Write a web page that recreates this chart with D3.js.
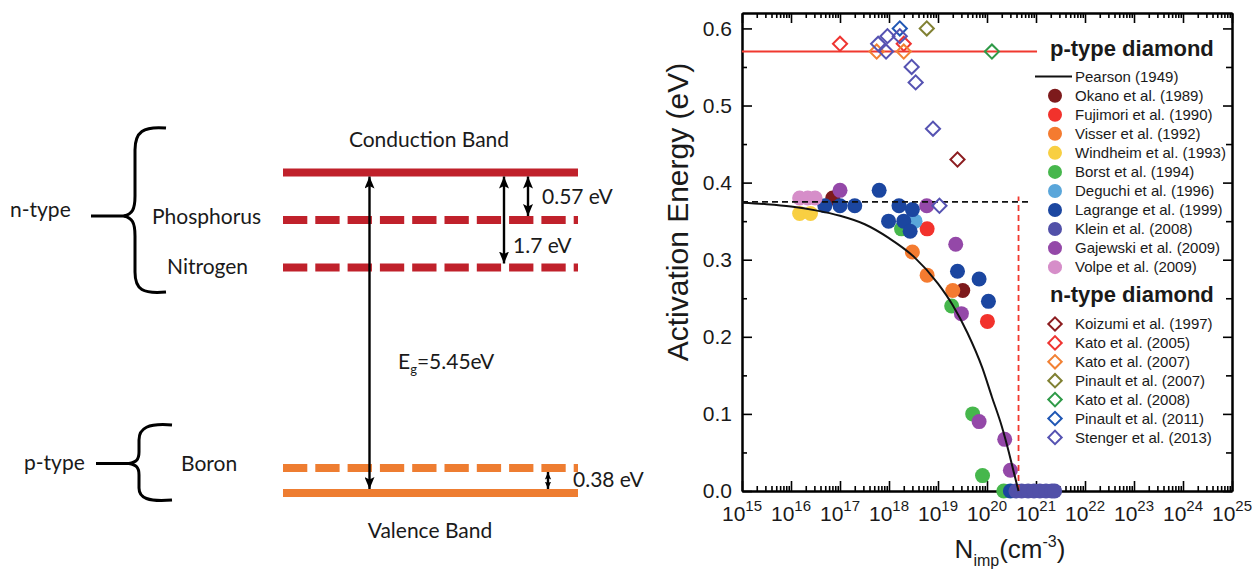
<!DOCTYPE html>
<html><head><meta charset="utf-8">
<script src="https://cdn.jsdelivr.net/npm/d3@7"></script>
<style>body{margin:0;background:#fff} svg{display:block}</style>
</head><body>
<svg id="c" width="1254" height="570"></svg>
<script>
// ================= DATA =================
// Left: band diagram (energies in eV above valence band)
const levelNames = ["Conduction Band", "Phosphorus", "Nitrogen", "Boron", "Valence Band"];
const levelEnergies = [5.45, 4.88, 3.75, 0.38, 0];
const gapSpans = [[5.45, 0], [5.45, 3.75], [5.45, 4.88], [0.38, 0]];
const gapLabels = ["Eg=5.45eV", "1.7 eV", "0.57 eV", "0.38 eV"];
const dopantGroups = ["n-type", "p-type"];

// Right: activation energy vs impurity concentration
const xDecades = [15, 16, 17, 18, 19, 20, 21, 22, 23, 24, 25];
const yTicks = [0, 0.1, 0.2, 0.3, 0.4, 0.5, 0.6];
const yMinorTicks = [0.05, 0.15, 0.25, 0.35, 0.45, 0.55];

const pearsonN = [1e15, 3.2e15, 1e16, 3.2e16, 1e17, 3.2e17, 1e18, 3.2e18, 1e19, 2e19, 4e19, 8e19, 1.26e20, 2e20, 2.8e20, 3.5e20, 4.4e20];
const pearsonE = [0.374, 0.372, 0.369, 0.364, 0.357, 0.346, 0.328, 0.304, 0.269, 0.241, 0.205, 0.160, 0.122, 0.084, 0.050, 0.025, 0.0];

const boronLevelLine = [[1e15, 0.375], [6.9e20, 0.375]];
const phosphorusLevelLine = [[1e15, 0.57], [1.05e21, 0.57]];
const mottLine = [[4.4e20, 0], [4.4e20, 0.382]];

// p-type series (filled circles)
const okano    = [[7.1e16, 0.38], [3.2e19, 0.26]];
const fujimori = [[6e18, 0.34], [1.02e20, 0.22]];
const visser   = [[3e18, 0.31], [6e18, 0.28], [2e19, 0.26]];
const windheim = [[1.5e16, 0.36], [2.5e16, 0.36]];
const borst    = [[1.8e18, 0.34], [1.9e19, 0.24], [5.1e19, 0.10], [8.1e19, 0.02], [2.2e20, 0]];
const deguchi  = [[3.4e18, 0.35]];
const lagrange = [[4.9e16, 0.37], [1e17, 0.37], [2e17, 0.37], [6.3e17, 0.39], [1.6e18, 0.37], [3e18, 0.365],
                  [9.8e17, 0.35], [2e18, 0.35], [2.7e18, 0.337], [2.5e19, 0.285], [6.9e19, 0.275], [1.07e20, 0.246], [3e20, 0]];
const klein    = [[3.9e20, 0], [5.1e20, 0], [6.9e20, 0], [9.1e20, 0], [1.2e21, 0], [1.6e21, 0], [2.1e21, 0], [2.4e21, 0]];
const gajewski = [[1e17, 0.39], [5.9e18, 0.37], [2.3e19, 0.32], [3e19, 0.23], [6.9e19, 0.09], [2.3e20, 0.067], [3e20, 0.027]];
const volpe    = [[1.5e16, 0.38], [2.2e16, 0.38], [3.1e16, 0.38]];

// n-type series (open diamonds)
const koizumi   = [[2.5e19, 0.43]];
const kato2005  = [[1e17, 0.58], [2e18, 0.58]];
const kato2007  = [[5.6e17, 0.57], [2e18, 0.57]];
const pinault07 = [[5.9e18, 0.60]];
const kato2008  = [[1.26e20, 0.57]];
const pinault11 = [[1.66e18, 0.60]];
const stenger   = [[6e17, 0.58], [9.3e17, 0.59], [8.7e17, 0.57], [1.66e18, 0.59], [2.9e18, 0.55], [3.5e18, 0.53], [7.9e18, 0.47], [1.07e19, 0.37]];

const pNames = ["Okano et al. (1989)", "Fujimori et al. (1990)", "Visser et al. (1992)", "Windheim et al. (1993)",
  "Borst et al. (1994)", "Deguchi et al. (1996)", "Lagrange et al. (1999)", "Klein et al. (2008)",
  "Gajewski et al. (2009)", "Volpe et al. (2009)"];
const pData = [okano, fujimori, visser, windheim, borst, deguchi, lagrange, klein, gajewski, volpe];
const nNames = ["Koizumi et al. (1997)", "Kato et al. (2005)", "Kato et al. (2007)", "Pinault et al. (2007)",
  "Kato et al. (2008)", "Pinault et al. (2011)", "Stenger et al. (2013)"];
const nData = [koizumi, kato2005, kato2007, pinault07, kato2008, pinault11, stenger];

// palettes
const pColors = ["#7d1a1c", "#f2322c", "#f47b30", "#f8cf42", "#46b74c", "#5aa6da", "#1b46a0", "#5150a8", "#9448a8", "#d68ec9"];
const nColors = ["#8c1d20", "#ef3431", "#f28134", "#818133", "#2f9a48", "#2057b4", "#5653b2"];

// ================= DRAW =================
const svg = d3.select("#c");
svg.append("rect").attr("width", 1254).attr("height", 570).attr("fill", "#fff");

// ---------- Left diagram ----------
const L = svg.append("g").attr("font-family", "Lato, 'Open Sans', sans-serif").attr("fill", "#1a1a1a");
const eScale = d3.scaleLinear().domain([0, 0.38, 3.75, 4.88, 5.45]).range([493, 468, 267.5, 220, 172.5]);
const bandX = [283, 578];
const red = "#c0212b", orange = "#ee7d31";
levelEnergies.forEach((e, i) => {
  const dashed = (i > 0 && i < 4);
  L.append("line").attr("x1", bandX[0]).attr("x2", bandX[1])
    .attr("y1", eScale(e)).attr("y2", eScale(e))
    .attr("stroke", i < 3 ? red : orange).attr("stroke-width", 8)
    .attr("stroke-dasharray", dashed ? "24.3,8" : null);
});
// level labels
L.append("text").attr("x", 429).attr("y", eScale(levelEnergies[0]) - 26).attr("text-anchor", "middle").attr("font-size", 21).text(levelNames[0]);
L.append("text").attr("x", 430).attr("y", eScale(levelEnergies[4]) + 45).attr("text-anchor", "middle").attr("font-size", 21).text(levelNames[4]);
L.append("text").attr("x", 152).attr("y", eScale(levelEnergies[1]) + 4).attr("font-size", 21).text(levelNames[1]);
L.append("text").attr("x", 167).attr("y", eScale(levelEnergies[2]) + 6.5).attr("font-size", 21).text(levelNames[2]);
L.append("text").attr("x", 181).attr("y", eScale(levelEnergies[3]) + 2.5).attr("font-size", 21).text(levelNames[3]);

// arrows
const defs = svg.append("defs");
defs.append("marker").attr("id", "ah").attr("viewBox", "0 0 12 10").attr("refX", 12).attr("refY", 5)
  .attr("markerWidth", 12).attr("markerHeight", 10).attr("markerUnits", "userSpaceOnUse")
  .attr("orient", "auto-start-reverse")
  .append("path").attr("d", "M0,0 L12,5 L0,10 L2.5,5 Z").attr("fill", "#000");
defs.append("marker").attr("id", "ahs").attr("viewBox", "0 0 12 10").attr("refX", 12).attr("refY", 5)
  .attr("markerWidth", 7.5).attr("markerHeight", 8).attr("markerUnits", "userSpaceOnUse")
  .attr("orient", "auto-start-reverse")
  .append("path").attr("d", "M0,0 L12,5 L0,10 L2.5,5 Z").attr("fill", "#000");
const arrowX = [369.5, 504, 528, 548];
gapSpans.forEach((s, i) => {
  const y1 = eScale(s[0]) + 4, y2 = eScale(s[1]) - 4;
  const m = (y2 - y1) < 30 ? "url(#ahs)" : "url(#ah)";
  L.append("line").attr("x1", arrowX[i]).attr("x2", arrowX[i]).attr("y1", y1).attr("y2", y2)
    .attr("stroke", "#000").attr("stroke-width", 2.4)
    .attr("marker-start", m).attr("marker-end", m);
});
// gap labels
const eg = L.append("text").attr("x", 398).attr("y", 369).attr("font-size", 21);
eg.append("tspan").text("E");
eg.append("tspan").attr("font-size", 13).attr("dy", 5).text("g");
eg.append("tspan").attr("dy", -5).text("=5.45eV");
L.append("text").attr("x", 513).attr("y", 252.5).attr("font-size", 21).text(gapLabels[1]);
L.append("text").attr("x", 542).attr("y", 203.5).attr("font-size", 21).text(gapLabels[2]);
L.append("text").attr("x", 573).attr("y", 487).attr("font-size", 21).text(gapLabels[3]);

// braces
L.append("path").attr("d", "M166,128 C143,126 135,132 135,150 L135,196 C135,210 132,214 124,216 C132,218 135,222 135,236 L135,272 C135,290 143,294 166,292")
  .attr("fill", "none").attr("stroke", "#000").attr("stroke-width", 3);
L.append("line").attr("x1", 91).attr("x2", 126).attr("y1", 216).attr("y2", 216).attr("stroke", "#000").attr("stroke-width", 3);
L.append("path").attr("d", "M172,425 C148,423 139,428 139,440 L139,452 C139,460 136,462 129,463.5 C136,465 139,467 139,475 L139,488 C139,498 148,502 172,500")
  .attr("fill", "none").attr("stroke", "#000").attr("stroke-width", 3);
L.append("line").attr("x1", 96).attr("x2", 131).attr("y1", 463.5).attr("y2", 463.5).attr("stroke", "#000").attr("stroke-width", 3);
L.append("text").attr("x", 10).attr("y", 217).attr("font-size", 21).text(dopantGroups[0]);
L.append("text").attr("x", 24).attr("y", 470).attr("font-size", 21).text(dopantGroups[1]);

// ---------- Right chart ----------
const R = svg.append("g").attr("font-family", "'Liberation Sans', Arial, sans-serif");
const x = d3.scaleLog().domain([1e15, 1e25]).range([742, 1232]);
const y = d3.scaleLinear().domain([0, 0.62]).range([491, 13]);
const decadeVals = xDecades.map(e => Math.pow(10, e));
const minorVals = [];
xDecades.slice(0, -1).forEach(e => { for (let m = 2; m <= 9; m++) minorVals.push(m * Math.pow(10, e)); });

function styleAxis(g) {
  g.selectAll(".tick line").attr("stroke", "#000").attr("stroke-width", 1.6);
  g.select(".domain").attr("stroke", "#000").attr("stroke-width", 2);
}
// bottom
R.append("g").attr("transform", "translate(0,491)")
  .call(d3.axisBottom(x).tickValues(minorVals).tickSize(-5).tickSizeOuter(0).tickFormat("")).call(styleAxis);
R.append("g").attr("transform", "translate(0,491)")
  .call(d3.axisBottom(x).tickValues(decadeVals).tickSize(-10).tickSizeOuter(0).tickFormat("")).call(styleAxis);
// top
R.append("g").attr("transform", "translate(0,13)")
  .call(d3.axisTop(x).tickValues(minorVals).tickSize(-5).tickSizeOuter(0).tickFormat("")).call(styleAxis);
R.append("g").attr("transform", "translate(0,13)")
  .call(d3.axisTop(x).tickValues(decadeVals).tickSize(-10).tickSizeOuter(0).tickFormat("")).call(styleAxis);
// left
R.append("g").attr("transform", "translate(742,0)")
  .call(d3.axisLeft(y).tickValues(yMinorTicks).tickSize(-5).tickSizeOuter(0).tickFormat("")).call(styleAxis);
const yl = R.append("g").attr("transform", "translate(742,0)")
  .call(d3.axisLeft(y).tickValues(yTicks).tickSize(-10).tickSizeOuter(0).tickPadding(10).tickFormat(d3.format(".1f"))).call(styleAxis);
yl.selectAll(".tick text").attr("font-size", 21).attr("fill", "#1a1a1a").attr("font-family", "'Liberation Sans', Arial, sans-serif");
// right
R.append("g").attr("transform", "translate(1232,0)")
  .call(d3.axisRight(y).tickValues(yMinorTicks).tickSize(-6).tickSizeOuter(0).tickFormat("")).call(styleAxis);
R.append("g").attr("transform", "translate(1232,0)")
  .call(d3.axisRight(y).tickValues(yTicks).tickSize(-9).tickSizeOuter(0).tickFormat("")).call(styleAxis);

// x tick labels 10^n
xDecades.forEach(e => {
  const t = R.append("text").attr("x", x(Math.pow(10, e))).attr("y", 521).attr("text-anchor", "middle")
    .attr("font-size", 21).attr("fill", "#1a1a1a");
  t.append("tspan").text("10");
  t.append("tspan").attr("font-size", 15).attr("dy", -10).text(String(e));
});
// axis titles
const xt = R.append("text").attr("x", 1010).attr("y", 558).attr("text-anchor", "middle").attr("font-size", 26).attr("fill", "#1a1a1a");
xt.append("tspan").text("N");
xt.append("tspan").attr("font-size", 16).attr("dy", 8).text("imp");
xt.append("tspan").attr("dy", -8).text("(cm");
xt.append("tspan").attr("font-size", 16).attr("dy", -11).text("-3");
xt.append("tspan").attr("dy", 11).text(")");
R.append("text").attr("transform", "translate(688,212) rotate(-90)").attr("text-anchor", "middle")
  .attr("font-size", 30).attr("fill", "#1a1a1a").text("Activation Energy (eV)");

// points: circles
pData.forEach((s, i) => {
  R.append("g").selectAll("circle").data(s).join("circle")
    .attr("cx", d => x(d[0])).attr("cy", d => y(d[1])).attr("r", 7.5).attr("fill", pColors[i]);
});
// lines
const line = d3.line().x(d => x(d[0])).y(d => y(d[1]));
R.append("path").attr("d", line(phosphorusLevelLine)).attr("stroke", "#f0392f").attr("stroke-width", 2).attr("fill", "none");
R.append("path").attr("d", line(boronLevelLine)).attr("stroke", "#111").attr("stroke-width", 1.8).attr("stroke-dasharray", "6,4").attr("fill", "none");
R.append("path").attr("d", line(mottLine)).attr("stroke", "#f0392f").attr("stroke-width", 1.8).attr("stroke-dasharray", "6,4").attr("fill", "none");
R.append("path").attr("d", d3.line().x(d => x(d[0])).y(d => y(d[1])).curve(d3.curveMonotoneX)(pearsonN.map((n, i) => [n, pearsonE[i]])))
  .attr("stroke", "#111").attr("stroke-width", 2).attr("fill", "none");
// diamonds
const diamond = d3.symbol(d3.symbolSquare, 100);
nData.forEach((s, i) => {
  R.append("g").selectAll("path").data(s).join("path")
    .attr("d", diamond).attr("transform", d => `translate(${x(d[0])},${y(d[1])}) rotate(45)`)
    .attr("fill", "none").attr("stroke", nColors[i]).attr("stroke-width", 2);
});

// legend
const lg = R.append("g").attr("fill", "#1a1a1a");
lg.append("text").attr("x", 1050).attr("y", 56).attr("font-size", 22).attr("font-weight", "bold").text("p-type diamond");
lg.append("line").attr("x1", 1035).attr("x2", 1072).attr("y1", 76.5).attr("y2", 76.5).attr("stroke", "#111").attr("stroke-width", 2);
lg.append("text").attr("x", 1075).attr("y", 76.5).attr("dy", "0.35em").attr("font-size", 15).text("Pearson (1949)");
pNames.forEach((nm, i) => {
  const yy = 95.7 + i * 19.05;
  lg.append("circle").attr("cx", 1055).attr("cy", yy).attr("r", 7).attr("fill", pColors[i]);
  lg.append("text").attr("x", 1075).attr("y", yy).attr("dy", "0.35em").attr("font-size", 15).text(nm);
});
lg.append("text").attr("x", 1050).attr("y", 302).attr("font-size", 22).attr("font-weight", "bold").text("n-type diamond");
nNames.forEach((nm, i) => {
  const yy = 324 + i * 18.9;
  lg.append("path").attr("d", d3.symbol(d3.symbolSquare, 90)).attr("transform", `translate(1055,${yy}) rotate(45)`)
    .attr("fill", "none").attr("stroke", nColors[i]).attr("stroke-width", 2);
  lg.append("text").attr("x", 1075).attr("y", yy).attr("dy", "0.35em").attr("font-size", 15).text(nm);
});
</script>
</body></html>
